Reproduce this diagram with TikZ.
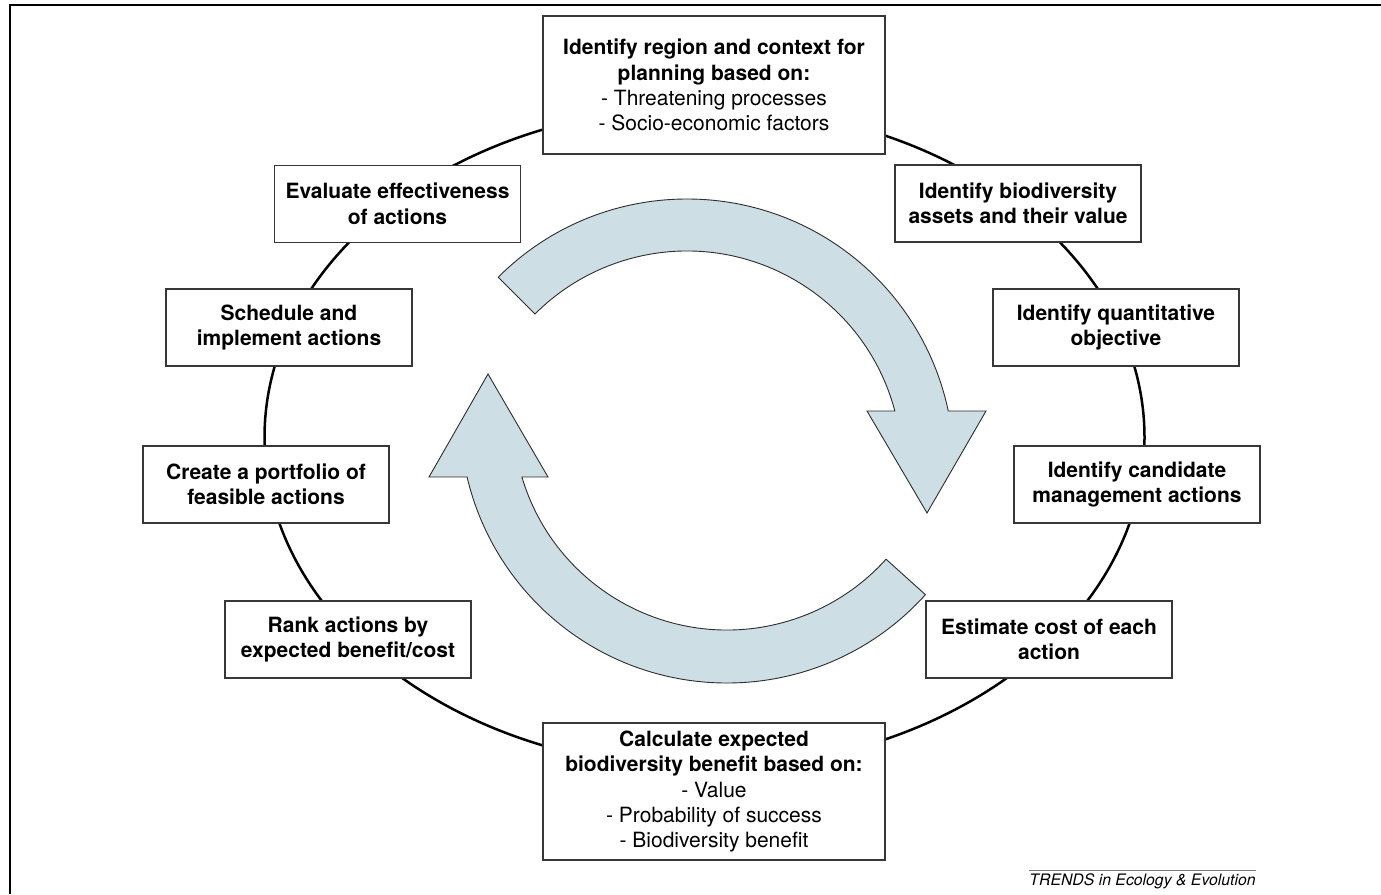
\documentclass[tikz,border=0pt]{standalone}
\usepackage{fontspec}
\setmainfont{TeX Gyre Heros}
\usetikzlibrary{calc}
\definecolor{boxgray}{RGB}{55,55,55}
\definecolor{arrowblue}{RGB}{205,222,228}
\definecolor{arrowline}{RGB}{45,45,45}
\definecolor{rulegray}{RGB}{120,120,120}
\begin{document}
\begin{tikzpicture}[x=1pt,y=-1pt,
  box/.style={draw=boxgray, line width=1.3pt, fill=white, align=center,
    inner sep=0pt, minimum width=246pt, minimum height=77pt,
    font=\fontsize{21}{25.5}\selectfont\bfseries},
  bigbox/.style={box, minimum width=342pt, minimum height=138pt,
    font=\fontsize{21}{25.2}\selectfont},
  bigarrow/.style={fill=arrowblue, draw=arrowline, line width=0.9pt, line join=miter},
  cycleline/.style={line width=2.5pt, draw=black}
]
\useasboundingbox (0,0) rectangle (1381,894);
% frame
\draw[line width=2pt] (10,894) -- (10,5) -- (1381,5);

% cycle ellipse
\draw[cycleline] (704.5,437.5) ellipse [x radius=440, y radius=331];

% circular arrows
\coordinate (c1) at (687,466);
\coordinate (c2) at (727,416);
\filldraw[bigarrow] ($(c1)+(-135:267)$) arc[start angle=-135, end angle=-11.89, radius=267]
  -- (986,411) -- (927,513) -- (867,411)
  -- ($(c1)+(-14.82:215)$) arc[start angle=-14.82, end angle=-135, radius=215] -- cycle;
\filldraw[bigarrow] ($(c2)+(42:267)$) arc[start angle=42, end angle=166.8, radius=267]
  -- (429,477) -- (488,374) -- (548,477)
  -- ($(c2)+(163.44:214)$) arc[start angle=163.44, end angle=42, radius=214] -- cycle;

% boxes
\node[bigbox] (region) at (714,85) {\textbf{Identify region and context for}\\\textbf{planning based on:}\\- Threatening processes\\- Socio-economic factors};
\node[box] (assets) at (1018,203.5) {Identify biodiversity\\assets and their value};
\node[box] (objective) at (1116,327.5) {Identify quantitative\\objective};
\node[box] (candidate) at (1137,484.5) {Identify candidate\\management actions};
\node[box] (cost) at (1049,639.5) {Estimate cost of each\\action};
\node[bigbox, minimum height=137pt] (benefit) at (714,791.5) {\textbf{Calculate expected}\\\textbf{biodiversity benefit based on:}\\- Value\\- Probability of success\\- Biodiversity benefit};
\node[box] (rank) at (348,639.5) {Rank actions by\\expected benefit/cost};
\node[box] (portfolio) at (266,484.5) {Create a portfolio of\\feasible actions};
\node[box] (schedule) at (289,327.5) {Schedule and\\implement actions};
\node[box] (evaluate) at (397.5,204) {Evaluate effectiveness\\of actions};

% footer
\coordinate (ruleL) at (1029,870);
\coordinate (ruleR) at (1256,870);
\draw[rulegray, line width=1pt] (ruleL) -- (ruleR);
\node[anchor=base, inner sep=0pt, font=\fontsize{15.8}{18}\selectfont\itshape] (credit) at (1142.5,885) {TRENDS in Ecology \& Evolution};
\end{tikzpicture}
\end{document}
